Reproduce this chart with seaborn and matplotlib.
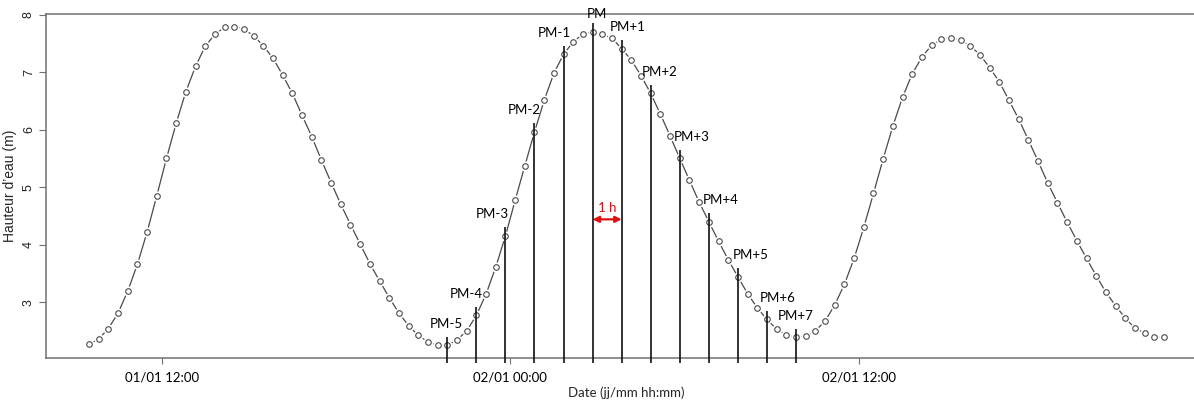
import matplotlib
matplotlib.use("Agg")
import matplotlib.pyplot as plt
import matplotlib.dates as mdates
import numpy as np
import pandas as pd
import seaborn as sns

# Water height sampled every 20 minutes from 01/01 09:30
START = "2013-01-01 09:30"
STEP = "20min"
heights = [
    2.27, 2.36, 2.54, 2.81, 3.19, 3.66, 4.22, 4.85, 5.50, 6.11,
    6.66, 7.10, 7.45, 7.66, 7.78, 7.79, 7.75, 7.63, 7.46, 7.24,
    6.95, 6.63, 6.25, 5.88, 5.47, 5.08, 4.70, 4.35, 4.01, 3.67,
    3.37, 3.08, 2.81, 2.59, 2.42, 2.31, 2.25, 2.25, 2.34, 2.50,
    2.77, 3.14, 3.61, 4.15, 4.77, 5.37, 5.96, 6.51, 6.98, 7.31,
    7.53, 7.66, 7.70, 7.66, 7.59, 7.41, 7.21, 6.94, 6.63, 6.27,
    5.89, 5.50, 5.12, 4.74, 4.40, 4.06, 3.74, 3.44, 3.15, 2.90,
    2.70, 2.53, 2.43, 2.39, 2.41, 2.50, 2.67, 2.95, 3.31, 3.76,
    4.30, 4.89, 5.49, 6.06, 6.56, 6.97, 7.26, 7.47, 7.57, 7.60,
    7.56, 7.46, 7.30, 7.08, 6.83, 6.51, 6.18, 5.82, 5.45, 5.07,
    4.73, 4.39, 4.07, 3.76, 3.46, 3.17, 2.94, 2.72, 2.55, 2.46,
    2.39, 2.39,
]

# High water and the hourly marks around it
PM_TIME = "2013-01-02 02:50"
pm_hours = list(range(-5, 8))
pm_labels = ["PM-5", "PM-4", "PM-3", "PM-2", "PM-1", "PM",
             "PM+1", "PM+2", "PM+3", "PM+4", "PM+5", "PM+6", "PM+7"]

x_ticks = ["2013-01-01 12:00", "2013-01-02 00:00", "2013-01-02 12:00"]
y_ticks = [3, 4, 5, 6, 7, 8]

# label placement around the top of each mark, in pixels
label_dx = [-1, -10, -13.5, -10, -9, 4, 6, 9, 11.5, 12, 13, 11, 0]
label_dy = [7, 7, 7, 7, 7, 3, 7, 7, 7, 7, 7, 7, 7]

sns.set_theme(style="white")
plt.rcParams["font.family"] = ["Lato", "DejaVu Sans"]

times = pd.date_range(START, periods=len(heights), freq=STEP)
df = pd.DataFrame({"time": times, "h": heights})

DPI = 100
fig = plt.figure(figsize=(11.94, 4.0), dpi=DPI)
ax = fig.add_axes([46 / 1194, 42 / 400, (1207 - 46) / 1194, (358 - 14) / 400])

curve = "#4a4a4a"
sns.lineplot(data=df, x="time", y="h", ax=ax, color=curve, lw=0.9, zorder=2)
# white halo around each point leaves a small gap in the line
ax.plot(df["time"], df["h"], "o", ms=6.3, mfc="white", mec="white", zorder=3)
ax.plot(df["time"], df["h"], "o", ms=4.0, mfc="white", mec=curve, mew=0.8, zorder=4)

# x and y limits with a 4 % margin around the data
t0, t1 = times[0], times[-1]
span = t1 - t0
ax.set_xlim(t0 - 0.04 * span, t1 + 0.04 * span)
hmin, hmax = min(heights), max(heights)
hr = hmax - hmin
ylo, yhi = hmin - 0.04 * hr, hmax + 0.04 * hr
ax.set_ylim(ylo, yhi)

# vertical marks at each hour around high water
pm_t = pd.Timestamp(PM_TIME)
px_per_m = (358 - 14) / (yhi - ylo)
below = 5 / px_per_m
for h, lab, dx, dy in zip(pm_hours, pm_labels, label_dx, label_dy):
    t = pm_t + pd.Timedelta(hours=h)
    val = df.loc[df["time"] == t, "h"].iloc[0]
    top = val + 0.15
    ax.vlines(t, ylo - below, top, color="#111111", lw=1.2, zorder=5, clip_on=False)
    ax.annotate(lab, xy=(mdates.date2num(t), top), xytext=(dx * 72 / DPI, dy * 72 / DPI),
                textcoords="offset points", ha="center", va="bottom",
                fontsize=9.5, color="black", zorder=6)

# one hour span between PM and PM+1
t_a = pm_t
t_b = pm_t + pd.Timedelta(hours=1)
ax.annotate("", xy=(mdates.date2num(t_b), 4.44), xytext=(mdates.date2num(t_a), 4.44),
            arrowprops=dict(arrowstyle="<|-|>", color="#e01010", lw=1.6,
                            mutation_scale=9, shrinkA=0, shrinkB=0), zorder=7)
ax.text(mdates.date2num(t_a + (t_b - t_a) / 2), 4.53, "1 h", color="#e01010",
        ha="center", va="bottom", fontsize=9.5, zorder=7)

# axes styling
for side in ["left", "top", "bottom", "right"]:
    ax.spines[side].set_color("#707070")
    ax.spines[side].set_linewidth(1.1)

ax.set_xticks(pd.to_datetime(x_ticks))
ax.xaxis.set_major_formatter(mdates.DateFormatter("%d/%m %H:%M"))
ax.set_yticks(y_ticks)
ax.tick_params(axis="x", length=4, width=0.8, color="#707070", pad=6,
               labelsize=9.5, labelcolor="black", bottom=True)
ax.tick_params(axis="y", length=5, width=0.8, color="#707070", pad=3,
               labelsize=9, labelcolor="#222222", left=True)
for lbl in ax.get_yticklabels():
    lbl.set_rotation(90)
    lbl.set_va("center")
    lbl.set_family(["Liberation Sans", "DejaVu Sans"])

ax.set_xlabel("Date (jj/mm hh:mm)", fontsize=9.5, labelpad=2)
ax.set_ylabel("Hauteur d\u2019eau (m)", fontsize=10,
              family=["Liberation Sans", "DejaVu Sans"], labelpad=4)

fig.savefig("out.png", dpi=DPI)
